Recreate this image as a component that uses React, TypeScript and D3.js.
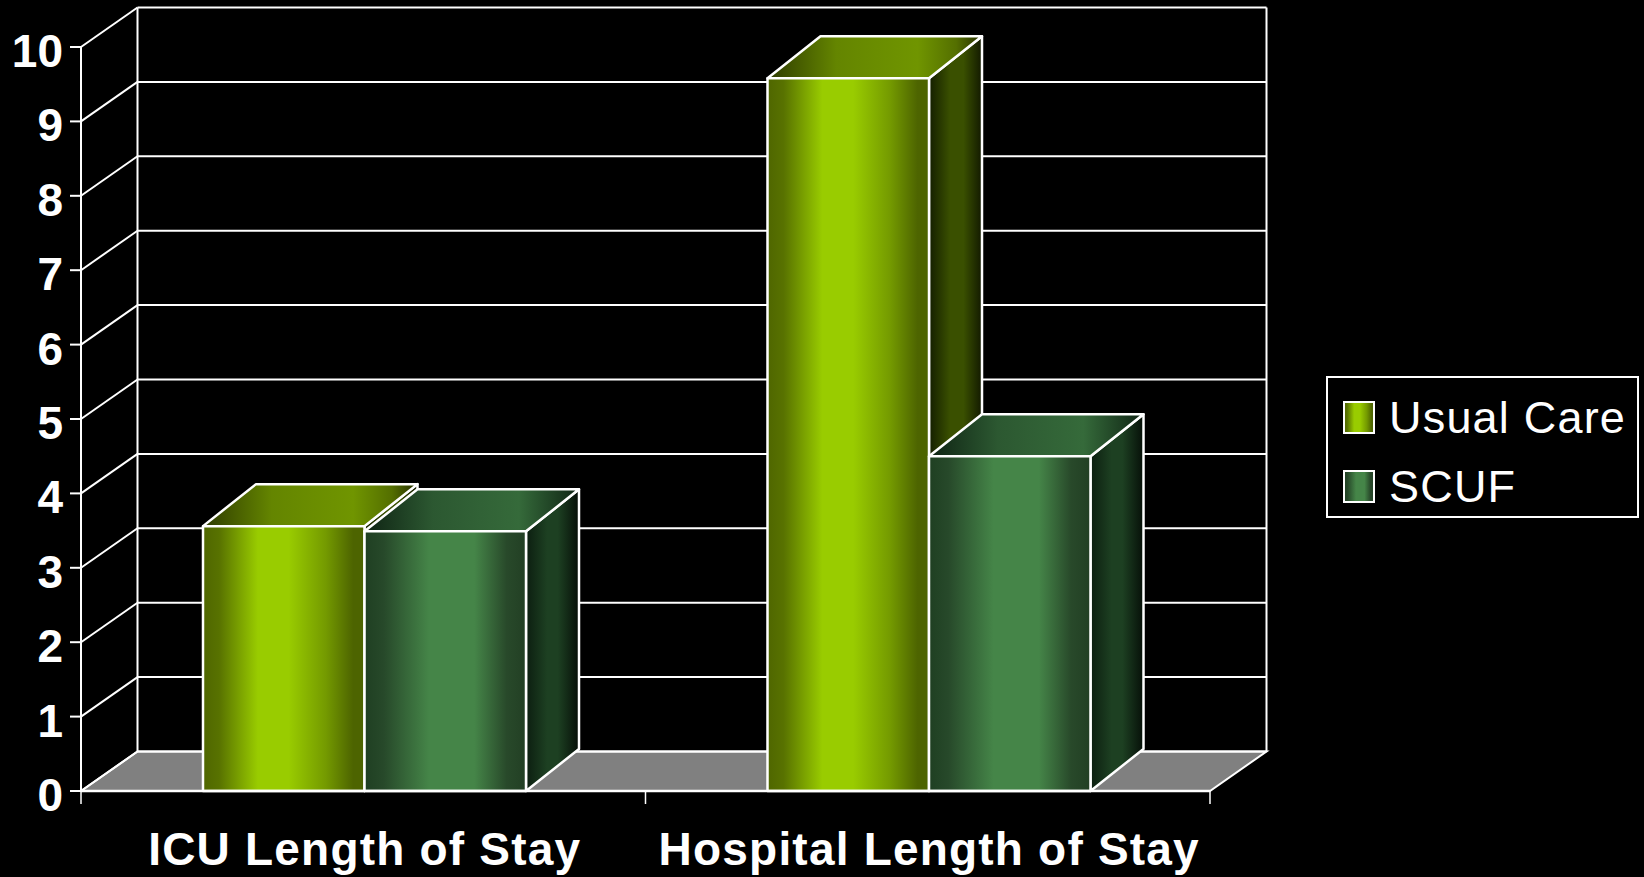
import React from "react";
import * as d3 from "d3";

const categories = ["ICU Length of Stay", "Hospital Length of Stay"];
const seriesNames = ["Usual Care", "SCUF"];
const usualCare = [3.56, 9.58];
const scuf = [3.49, 4.5];
const seriesValues = [usualCare, scuf];
const yTicks = [0, 1, 2, 3, 4, 5, 6, 7, 8, 9, 10];

const WIDTH = 1644;
const HEIGHT = 877;
const FONT = "'Liberation Sans', Arial, sans-serif";

// Stop lists for the pseudo-cylindrical shading of each bar face.
const shades = [
  {
    front: [[0, "#4f6600"], [0.1, "#587200"], [0.34, "#99cc00"], [0.53, "#99cc00"], [0.76, "#749a00"], [0.93, "#4d6400"], [1, "#4d6400"]],
    top: [[0, "#2e3b00"], [0.32, "#648500"], [0.7, "#709500"], [0.88, "#546f00"], [1, "#262f00"]],
    side: [[0, "#141e00"], [0.4, "#3a5000"], [0.65, "#3a5000"], [1, "#121900"]],
  },
  {
    front: [[0, "#1f3f22"], [0.12, "#27492a"], [0.4, "#458548"], [0.68, "#458548"], [0.88, "#28492a"], [1, "#223f24"]],
    top: [[0, "#0f2414"], [0.32, "#2c5831"], [0.72, "#356a3a"], [1, "#0f2414"]],
    side: [[0, "#0c1e10"], [0.4, "#1d4022"], [0.6, "#1d4022"], [1, "#060f08"]],
  },
];

function Grad({ id, stops }: { id: string; stops: (number | string)[][] }) {
  return (
    <linearGradient id={id} x1="0" y1="0" x2="1" y2="0">
      {stops.map(([o, c], i) => (
        <stop key={i} offset={o as number} stopColor={c as string} />
      ))}
    </linearGradient>
  );
}

export default function App() {
  const y = d3.scaleLinear().domain([0, 10]).range([791, 47]);
  const x0 = d3.scaleBand().domain(categories).range([81, 1210]);
  const groupInset = 122;
  const x1 = d3
    .scaleBand()
    .domain(seriesNames)
    .range([groupInset, x0.bandwidth() - 119.5]);

  // Depth of the plot box and of the bars in the oblique projection.
  const wall = { dx: 56.5, dy: -39.5 };
  const depth = { dx: 53, dy: -42 };
  const poly = d3.line();
  const closed = (pts: [number, number][]) => poly(pts) + "Z";

  const x0Start = x0.range()[0];
  const x0End = x0.range()[1];
  const line = { stroke: "#fff", strokeWidth: 2, fill: "none" };

  return (
    <svg
      width={WIDTH}
      height={HEIGHT}
      style={{ position: "absolute", left: 0, top: 0, background: "#000", display: "block" }}
    >
      <defs>
        {shades.map((s, i) => (
          <React.Fragment key={i}>
            <Grad id={`front${i}`} stops={s.front} />
            <Grad id={`top${i}`} stops={s.top} />
            <Grad id={`side${i}`} stops={s.side} />
          </React.Fragment>
        ))}
      </defs>

      {/* floor */}
      <path
        d={closed([
          [x0Start, y(0)],
          [x0Start + wall.dx, y(0) + wall.dy],
          [x0End + wall.dx, y(0) + wall.dy],
          [x0End, y(0)],
        ])}
        fill="#808080"
        stroke="#fff"
        strokeWidth={2}
      />

      {/* back wall grid and left wall diagonals */}
      {yTicks.map((t) => (
        <g key={t}>
          <line x1={x0Start + wall.dx} x2={x0End + wall.dx} y1={y(t) + wall.dy} y2={y(t) + wall.dy} {...line} />
          <line x1={x0Start} x2={x0Start + wall.dx} y1={y(t)} y2={y(t) + wall.dy} {...line} />
          <line x1={x0Start - 11} x2={x0Start} y1={y(t)} y2={y(t)} {...line} />
          <text
            x={63}
            y={y(t) + 20}
            textAnchor="end"
            fill="#fff"
            fontFamily={FONT}
            fontWeight="bold"
            fontSize={46}
          >
            {t}
          </text>
        </g>
      ))}
      <line x1={x0Start + wall.dx} x2={x0Start + wall.dx} y1={y(10) + wall.dy} y2={y(0) + wall.dy} {...line} />
      <line x1={x0End + wall.dx} x2={x0End + wall.dx} y1={y(10) + wall.dy} y2={y(0) + wall.dy} {...line} />
      <line x1={x0Start} x2={x0Start} y1={y(10)} y2={y(0)} {...line} />

      {/* bars, drawn left to right so nearer faces overlap */}
      {categories.map((cat, ci) =>
        seriesNames.map((name, si) => {
          const left = (x0(cat) as number) + (x1(name) as number);
          const right = left + x1.bandwidth();
          const top = y(seriesValues[si][ci]);
          const base = y(0);
          const { dx, dy } = depth;
          return (
            <g key={name + cat} stroke="#fff" strokeWidth={2.5} strokeLinejoin="round">
              <path
                d={closed([[right, top], [right + dx, top + dy], [right + dx, base + dy], [right, base]])}
                fill={`url(#side${si})`}
              />
              <path
                d={closed([[left, top], [left + dx, top + dy], [right + dx, top + dy], [right, top]])}
                fill={`url(#top${si})`}
              />
              <path
                d={closed([[left, top], [right, top], [right, base], [left, base]])}
                fill={`url(#front${si})`}
              />
            </g>
          );
        })
      )}

      {/* category axis */}
      <line x1={x0Start} x2={x0End} y1={y(0)} y2={y(0)} stroke="#fff" strokeWidth={2.5} />
      {[x0Start, x0Start + x0.bandwidth(), x0End].map((tx) => (
        <line key={tx} x1={tx} x2={tx} y1={y(0)} y2={y(0) + 13} stroke="#fff" strokeWidth={1.5} />
      ))}
      {categories.map((cat) => (
        <text
          key={cat}
          x={(x0(cat) as number) + x0.bandwidth() / 2 + 1.5}
          y={865}
          textAnchor="middle"
          fill="#fff"
          fontFamily={FONT}
          fontWeight="bold"
          fontSize={46}
          letterSpacing={1.2}
        >
          {cat}
        </text>
      ))}

      {/* legend */}
      <rect x={1327} y={377} width={311} height={140} fill="#000" stroke="#fff" strokeWidth={2} />
      {seriesNames.map((name, i) => {
        const rowY = [402, 471][i];
        return (
          <g key={name}>
            <rect
              x={1344}
              y={rowY}
              width={30}
              height={31}
              fill={`url(#front${i})`}
              stroke="#fff"
              strokeWidth={2}
            />
            <text
              x={1389}
              y={rowY + 31}
              fill="#fff"
              fontFamily={FONT}
              fontSize={45}
              letterSpacing={1.2}
            >
              {name}
            </text>
          </g>
        );
      })}
    </svg>
  );
}
